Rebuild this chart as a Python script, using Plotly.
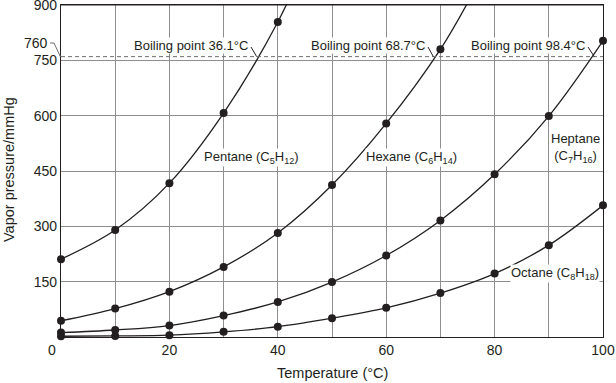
import plotly.graph_objects as go

# ---- data ----
temps_pentane = [0, 10, 20, 30, 40]
pentane = [211, 290, 417, 607, 854]
temps_hexane = [0, 10, 20, 30, 40, 50, 60, 70]
hexane = [44, 77, 123, 190, 282, 412, 579, 780]
temps_heptane = [0, 10, 20, 30, 40, 50, 60, 70, 80, 90, 100]
heptane = [12, 19, 31, 58, 95, 149, 221, 316, 441, 599, 803]
temps_octane = [0, 10, 20, 30, 40, 50, 60, 70, 80, 90, 100]
octane = [2, 3, 5, 14, 28, 51, 79, 119, 172, 249, 357]

boiling_points = [36.1, 68.7, 98.4]
boiling_labels = ["Boiling point 36.1°C", "Boiling point 68.7°C", "Boiling point 98.4°C"]
atm_pressure = 760

x_tick_vals = [20, 40, 60, 80, 100]
y_tick_vals = [150, 300, 450, 600, 750, 900]

# ---- layout geometry (pixels) ----
W, H = 616, 383
PL, PT, PW, PH = 61, 5, 542, 332
def pxx(px):
    return (px - PL) / PW
def pxy(py):
    return (PT + PH - py) / PH

INK = "#231f20"
FONT = "Liberation Sans, Arial, Helvetica, sans-serif"

def extend(xs, ys):
    # continue the curve past the last measured point with the same growth rate
    r = (ys[-1] / ys[-2]) ** 0.5
    return xs + [xs[-1] + 5], ys + [ys[-1] * r]

fig = go.Figure()
series = [
    (temps_pentane, pentane, True),
    (temps_hexane, hexane, True),
    (temps_heptane, heptane, False),
    (temps_octane, octane, False),
]
for xs, ys, ext in series:
    lx, ly = (extend(xs, ys) if ext else (xs, ys))
    fig.add_trace(go.Scatter(x=lx, y=ly, mode="lines",
                             line=dict(color=INK, width=1.3, shape="spline", smoothing=1),
                             hoverinfo="skip", showlegend=False))
for xs, ys, ext in series:
    fig.add_trace(go.Scatter(x=xs, y=ys, mode="markers",
                             marker=dict(color=INK, size=8), cliponaxis=False,
                             showlegend=False))

grid = "#8e8e8e"
fig.update_xaxes(range=[0, 100], tickvals=x_tick_vals, showgrid=True, gridcolor=grid, gridwidth=1,
                 minor=dict(dtick=10, showgrid=True, gridcolor=grid, gridwidth=1),
                 showline=True, mirror=True, linecolor=INK, linewidth=1.2, ticks="",
                 zeroline=False, ticklabeloverflow="allow", automargin=False,
                 tickfont=dict(size=14, color=INK, family=FONT))
fig.update_yaxes(range=[0, 900], tickvals=y_tick_vals, showgrid=True, gridcolor=grid, gridwidth=1,
                 showline=True, mirror=True, linecolor=INK, linewidth=1.2, ticks="",
                 zeroline=False, ticklabeloverflow="allow", automargin=False,
                 tickfont=dict(size=14, color=INK, family=FONT))

shapes = [
    dict(type="line", xref="paper", yref="y", x0=0, x1=1, y0=atm_pressure, y1=atm_pressure,
         line=dict(color="#6e6e6e", width=1, dash="4px,3px")),
    dict(type="path", xref="paper", yref="paper",
         path=f"M {pxx(50)} {pxy(43)} L {pxx(54)} {pxy(43)} L {pxx(60.5)} {pxy(57)}",
         line=dict(color="#6e6e6e", width=1)),
    # top frame edge (kept explicit so it is always drawn)
    dict(type="line", xref="paper", yref="paper", x0=0, x1=1, y0=1, y1=1,
         line=dict(color=INK, width=1.2)),
]

annotations = [
    dict(text="760", xref="paper", yref="paper", x=pxx(50), y=pxy(43), xanchor="right", yanchor="middle",
         showarrow=False, font=dict(size=14, color=INK, family=FONT)),
    dict(text="0", xref="paper", yref="paper", x=pxx(52), y=pxy(350), xanchor="center", yanchor="middle",
         showarrow=False, font=dict(size=14, color=INK, family=FONT)),
    dict(text="Temperature (°C)", xref="paper", yref="paper", x=pxx(332), y=pxy(373),
         xanchor="center", yanchor="middle", showarrow=False, font=dict(size=14.5, color=INK, family=FONT)),
    dict(text="Vapor pressure/mmHg", xref="paper", yref="paper", x=pxx(9), y=pxy(170), textangle=-90,
         xanchor="center", yanchor="middle", showarrow=False, font=dict(size=14.5, color=INK, family=FONT)),
]

label_right_px = [249, 426, 586]
for bp, lab, rpx in zip(boiling_points, boiling_labels, label_right_px):
    annotations.append(dict(text=lab, xref="paper", yref="paper", x=pxx(rpx), y=pxy(45),
                            xanchor="right", yanchor="middle", showarrow=False, bgcolor="white",
                            borderpad=0, font=dict(size=13, color=INK, family=FONT)))
    shapes.append(dict(type="line", xref="paper", yref="y", x0=pxx(rpx + 2), y0=(PT + PH - 47) * 900 / PH,
                       x1=bp / 100, y1=atm_pressure, line=dict(color=INK, width=1)))

compound_labels = [
    ("Pentane (C<sub>5</sub>H<sub>12</sub>)", 251.5, 157),
    ("Hexane (C<sub>6</sub>H<sub>14</sub>)", 411.5, 157),
    ("Heptane<br>(C<sub>7</sub>H<sub>16</sub>)", 575, 148),
    ("Octane (C<sub>8</sub>H<sub>18</sub>)", 555, 273),
]
for txt, cx, cy in compound_labels:
    annotations.append(dict(text=txt, xref="paper", yref="paper", x=pxx(cx), y=pxy(cy),
                            xanchor="center", yanchor="middle", showarrow=False, bgcolor="white",
                            borderpad=0, font=dict(size=13, color=INK, family=FONT)))

fig.update_layout(width=W, height=H, margin=dict(l=PL, r=W - PL - PW, t=PT, b=H - PT - PH),
                  plot_bgcolor="white", paper_bgcolor="white", shapes=shapes, annotations=annotations,
                  font=dict(family=FONT, color=INK), showlegend=False)

fig.write_html("out.html", config={"displayModeBar": False},
               post_script="document.body.style.margin='0';document.body.style.overflow='hidden';")
